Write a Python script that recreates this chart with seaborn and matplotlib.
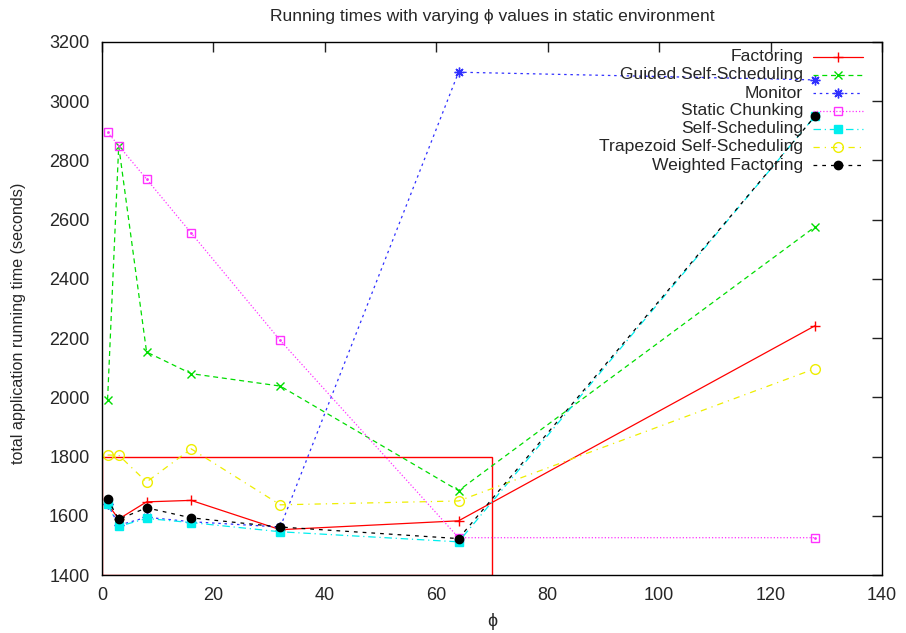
import matplotlib
matplotlib.use("Agg")
import matplotlib.pyplot as plt
import seaborn as sns
from matplotlib.patches import Rectangle
from matplotlib.lines import Line2D

# phi values used in the experiments
phi = [1, 3, 8, 16, 32, 64, 128]

# running times (seconds) per scheduling strategy
factoring = [1640, 1589, 1647, 1652, 1553, 1583, 2242]
guided_self_scheduling = [1992, 2849, 2153, 2080, 2038, 1685, 2576]
monitor = [1640, 1568, 1595, 1580, 1562, 3098, 3072]
static_chunking = [2895, 2850, 2737, 2555, 2192, 1526, 1526]
self_scheduling = [1639, 1564, 1591, 1577, 1546, 1512, 2950]
trapezoid_self_scheduling = [1805, 1805, 1714, 1826, 1637, 1650, 2097]
weighted_factoring = [1657, 1588, 1627, 1593, 1562, 1523, 2950]

# highlighted region
region_x = [0, 70]
region_y = [1400, 1800]

x_ticks = [0, 20, 40, 60, 80, 100, 120, 140]
y_ticks = [1400, 1600, 1800, 2000, 2200, 2400, 2600, 2800, 3000, 3200]

title = "Running times with varying \u03d5 values in static environment"
x_label = "\u03d5"
y_label = "total application running time (seconds)"

sns.set_theme(style="white")
plt.rcParams["font.family"] = ["Liberation Sans", "DejaVu Sans"]

fig = plt.figure(figsize=(9.06, 6.33), dpi=100)
ax = fig.add_axes([102 / 906, 1 - 575 / 633, 780 / 906, 533 / 633])

series = [
    ("Factoring", factoring, dict(color="#ff0000", marker="+", linestyle="-", ms=7.5, mfc="none")),
    ("Guided Self-Scheduling", guided_self_scheduling,
     dict(color="#00dd00", marker="x", dashes=(4, 3), ms=6, mfc="none")),
    ("Monitor", monitor, dict(color="#3030ff", marker=(8, 2, 0), dashes=(2, 3), ms=7, mfc="none")),
    ("Static Chunking", static_chunking,
     dict(color="#ff33ff", marker="s", dashes=(1, 1.6), ms=6, mfc="none")),
    ("Self-Scheduling", self_scheduling,
     dict(color="#00eeee", marker="s", dashes=(6, 3, 1, 3), ms=6, mfc="#00eeee")),
    ("Trapezoid Self-Scheduling", trapezoid_self_scheduling,
     dict(color="#eeee00", marker="o", dashes=(5, 4, 1, 4), ms=7, mfc="none")),
    ("Weighted Factoring", weighted_factoring,
     dict(color="#000000", marker="o", dashes=(3, 4), ms=6, mfc="#000000")),
]

lw = 0.9
for name, vals, st in series:
    kw = dict(st)
    color = kw.pop("color")
    ms = kw.pop("ms")
    mfc = kw.pop("mfc")
    sns.lineplot(x=phi, y=vals, ax=ax, color=color, linewidth=lw,
                 markersize=ms, markerfacecolor=mfc, markeredgecolor=color,
                 markeredgewidth=1.0, **kw)
    if name == "Static Chunking":
        ax.plot(phi, vals, linestyle="none", marker=".", ms=2, color=color)

ax.add_patch(Rectangle((region_x[0], region_y[0]), region_x[1] - region_x[0],
                       region_y[1] - region_y[0], fill=False, ec="#ff0000", lw=1.0,
                       zorder=1.5))

ax.set_xlim(0, 140)
ax.set_ylim(1400, 3200)
ax.set_xticks(x_ticks)
ax.set_yticks(y_ticks)
ax.tick_params(direction="in", length=7, width=1, top=True, right=True,
               labelsize=13, pad=9, color="#222222")
for s in ax.spines.values():
    s.set_visible(True)
    s.set_color("black")
    s.set_linewidth(1.0)

ax.set_title(title, fontsize=12.6, pad=15)
ax.set_xlabel(x_label, fontsize=13, labelpad=6)
ax.set_ylabel(y_label, fontsize=11.6)
ax.yaxis.set_label_coords(-0.097, 0.472)

# key: right-aligned labels followed by line samples
text_x = (803 - 102) / 780
line_x0, line_x1 = (813 - 102) / 780, (863 - 102) / 780
y0 = (575 - 57) / 533
dy = 18 / 533
for i, (name, vals, st) in enumerate(series):
    y = y0 - i * dy
    ax.text(text_x, y, name, transform=ax.transAxes, ha="right", va="center",
            fontsize=12.6)
    kw = dict(st)
    dashes = kw.pop("dashes", None)
    ls = kw.pop("linestyle", "-")
    ln = Line2D([line_x0, line_x1], [y, y], transform=ax.transAxes, color=kw["color"],
                linewidth=lw, linestyle=ls, clip_on=False)
    if dashes is not None:
        ln.set_dashes(dashes)
    ax.add_line(ln)
    mk = Line2D([(line_x0 + line_x1) / 2], [y], transform=ax.transAxes,
                marker=kw["marker"], ms=kw["ms"], mfc=kw["mfc"], mec=kw["color"],
                mew=1.0, linestyle="none", clip_on=False)
    ax.add_line(mk)

fig.savefig("out.png", dpi=100)
